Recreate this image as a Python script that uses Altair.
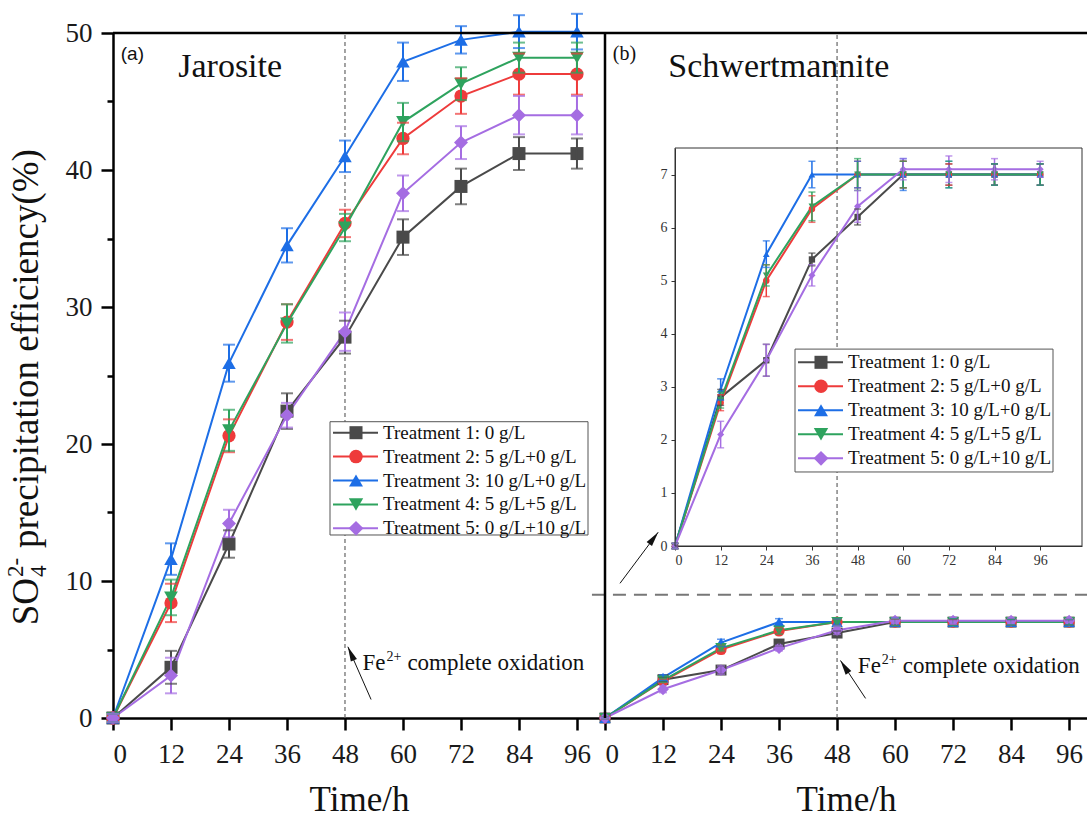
import altair as alt
import pandas as pd

# ---------------------------------------------------------------- data
times = [0, 12, 24, 36, 48, 60, 72, 84, 96]
treatments = [
    "Treatment 1: 0 g/L",
    "Treatment 2: 5 g/L+0 g/L",
    "Treatment 3: 10 g/L+0 g/L",
    "Treatment 4: 5 g/L+5 g/L",
    "Treatment 5: 0 g/L+10 g/L",
]
palette = ["#4a4a4a", "#ee3b3b", "#1d6ee6", "#2ea35e", "#a56de2"]
markers = ["square", "circle", "triangle-up", "triangle-down", "diamond"]

# (a) Jarosite: mean SO4 precipitation efficiency (%) and its error
jar_t1 = [0, 3.7, 12.7, 22.4, 27.8, 35.1, 38.8, 41.2, 41.2]
jar_t2 = [0, 8.4, 20.6, 28.9, 36.1, 42.3, 45.4, 47.0, 47.0]
jar_t3 = [0, 11.6, 25.9, 34.5, 41.0, 47.9, 49.5, 50.1, 50.1]
jar_t4 = [0, 8.8, 21.0, 28.8, 35.8, 43.5, 46.3, 48.2, 48.2]
jar_t5 = [0, 3.1, 14.2, 22.1, 28.2, 38.3, 42.0, 44.0, 44.0]
jar_e1 = [0.3, 1.2, 1.0, 1.3, 1.2, 1.3, 1.3, 1.2, 1.1]
jar_e2 = [0.3, 1.4, 1.2, 1.3, 1.0, 1.15, 1.3, 1.5, 1.5]
jar_e3 = [0.3, 1.15, 1.35, 1.25, 1.15, 1.4, 1.0, 1.2, 1.3]
jar_e4 = [0.3, 1.3, 1.5, 1.4, 1.0, 1.4, 1.2, 1.1, 1.1]
jar_e5 = [0.3, 1.3, 1.0, 0.9, 1.4, 1.3, 1.2, 1.4, 1.4]

# (b) Schwertmannite
sch_t1 = [0, 2.8, 3.5, 5.4, 6.2, 7.0, 7.0, 7.0, 7.0]
sch_t2 = [0, 2.7, 5.0, 6.35, 7.0, 7.0, 7.0, 7.0, 7.0]
sch_t3 = [0, 2.95, 5.5, 7.0, 7.0, 7.0, 7.0, 7.0, 7.0]
sch_t4 = [0, 2.75, 5.1, 6.4, 7.0, 7.0, 7.0, 7.0, 7.0]
sch_t5 = [0, 2.1, 3.5, 5.1, 6.4, 7.1, 7.1, 7.1, 7.1]
sch_e1 = [0.05, 0.15, 0.3, 0.12, 0.15, 0.25, 0.2, 0.2, 0.2]
sch_e2 = [0.05, 0.15, 0.3, 0.25, 0.25, 0.25, 0.2, 0.2, 0.2]
sch_e3 = [0.05, 0.2, 0.25, 0.25, 0.25, 0.3, 0.25, 0.2, 0.2]
sch_e4 = [0.05, 0.15, 0.2, 0.27, 0.3, 0.25, 0.25, 0.2, 0.2]
sch_e5 = [0.05, 0.25, 0.3, 0.2, 0.3, 0.2, 0.25, 0.2, 0.15]

y_ticks = [0, 10, 20, 30, 40, 50]
y_minor = [5, 15, 25, 35, 45]
inset_ticks = [0, 1, 2, 3, 4, 5, 6, 7]
oxidation_time = 48
inset_threshold = 9


def long_frame(means, errs):
    rows = []
    for name, m, e in zip(treatments, means, errs):
        for t, v, s in zip(times, m, e):
            rows.append({"series": name, "t": t, "v": v, "lo": v - s, "hi": v + s})
    return pd.DataFrame(rows)


jar = long_frame([jar_t1, jar_t2, jar_t3, jar_t4, jar_t5],
                 [jar_e1, jar_e2, jar_e3, jar_e4, jar_e5])
sch = long_frame([sch_t1, sch_t2, sch_t3, sch_t4, sch_t5],
                 [sch_e1, sch_e2, sch_e3, sch_e4, sch_e5])
legend_rows = pd.DataFrame({"series": treatments, "row": list(range(len(treatments)))})
ONE = pd.DataFrame({"k": [0]})

# ---------------------------------------------------------------- layout
SERIF = "Liberation Serif"
SANS = "Liberation Sans"
W, H = 974, 685

xa = alt.Scale(domain=[0, 101.8], range=[0, 492], nice=False)
xb = alt.Scale(domain=[0, 99.7], range=[492, W], nice=False)
xi = alt.Scale(domain=[0, 107], range=[562, 969], nice=False)
ym = alt.Scale(domain=[0, 50], range=[H, 0], nice=False)
yi = alt.Scale(domain=[0, 7.5], range=[513, 115], nice=False)

color = alt.Color("series:N", scale=alt.Scale(domain=treatments, range=palette), legend=None)
shape = alt.Shape("series:N", scale=alt.Scale(domain=treatments, range=markers), legend=None)
HEAD = "M0,0L-0.5,2.2L0.5,2.2Z"


def X(v, s, axis=None):
    return alt.XDatum(v, scale=s, axis=axis)


def Y(v, s, axis=None):
    return alt.YDatum(v, scale=s, axis=axis)


def series_layers(df, xs, ys, sizes, lw, ew, cap):
    base = alt.Chart(df)
    xn = alt.X("t:Q", scale=xs, axis=None)
    size = alt.Size("series:N", scale=alt.Scale(domain=treatments, range=sizes), legend=None)
    line = base.mark_line(strokeWidth=lw).encode(
        x=xn, y=alt.Y("v:Q", scale=ys, axis=None), color=color, detail="series:N")
    pts = base.mark_point(filled=True, opacity=1).encode(
        x=xn, y=alt.Y("v:Q", scale=ys, axis=None), color=color, shape=shape, size=size)
    bar = base.mark_rule(strokeWidth=ew).encode(
        x=xn, y=alt.Y("lo:Q", scale=ys, axis=None), y2="hi:Q", color=color)
    cap_lo = base.mark_tick(orient="horizontal", size=cap, thickness=ew).encode(
        x=xn, y=alt.Y("lo:Q", scale=ys, axis=None), color=color)
    cap_hi = base.mark_tick(orient="horizontal", size=cap, thickness=ew).encode(
        x=xn, y=alt.Y("hi:Q", scale=ys, axis=None), color=color)
    return [line, pts, bar, cap_lo, cap_hi]


def text_at(txt, x, y, xs, ys, **kw):
    kw.setdefault("font", SERIF)
    kw.setdefault("color", "#111")
    return alt.Chart(ONE).mark_text(text=txt, **kw).encode(x=X(x, xs), y=Y(y, ys))


def arrow(x0, y0, x1, y1, angle, xs, ys):
    shaft = alt.Chart(ONE).mark_rule(color="#111", strokeWidth=1).encode(
        x=X(x0, xs), y=Y(y0, ys), x2=alt.X2Datum(x1), y2=alt.Y2Datum(y1))
    head = alt.Chart(ONE).mark_point(shape=HEAD, filled=True, color="#111", opacity=1,
                                     size=180, angle=angle).encode(x=X(x1, xs), y=Y(y1, ys))
    return [shaft, head]


def oxidation_label(x, y, xs, ys):
    return [
        text_at("Fe", x, y, xs, ys, fontSize=23, align="left", baseline="alphabetic"),
        text_at("2+", x, y, xs, ys, fontSize=14, align="left", baseline="alphabetic", dx=24, dy=-9),
        text_at("complete oxidation", x, y, xs, ys, fontSize=23, align="left",
                baseline="alphabetic", dx=45),
    ]


def legend_layers(left, row_top, row_bottom, box_top, box_bottom):
    lx = alt.Scale(domain=[0, 258], range=[left, left + 258], nice=False)
    ly = alt.Scale(domain=[0, 4], range=[row_top, row_bottom], nice=False, zero=False)
    box = alt.Chart(ONE).mark_rect(fill="white", stroke="#555", strokeWidth=1).encode(
        x=X(0, lx), x2=alt.X2Datum(258), y=Y(box_top, ly), y2=alt.Y2Datum(box_bottom))
    base = alt.Chart(legend_rows)
    yrow = alt.Y("row:Q", scale=ly, axis=None)
    seg = base.mark_rule(strokeWidth=2).encode(x=X(3, lx), x2=alt.X2Datum(48), y=yrow, color=color)
    sym = base.mark_point(filled=True, opacity=1).encode(
        x=X(26, lx), y=yrow, color=color, shape=shape,
        size=alt.Size("series:N", scale=alt.Scale(domain=treatments,
                                                  range=[170, 220, 300, 300, 320]), legend=None))
    lab = base.mark_text(font=SERIF, fontSize=19, align="left", baseline="middle",
                         color="#111").encode(x=X(53, lx), y=yrow, text="series:N")
    return alt.layer(box, seg, sym, lab)


# ---------------------------------------------------------------- axes
big_axis = dict(domainWidth=2.5, tickWidth=2.5, domainColor="#000", tickColor="#000",
                labelFont=SERIF, labelFontSize=27, labelColor="#1a1a1a", grid=False)
time_title = dict(title="Time/h", titleFont=SERIF, titleFontSize=35, titleFontWeight="normal",
                  titleColor="#111", titleY=92, titleBaseline="alphabetic")
x_axis_a = alt.Axis(values=times, orient="bottom", tickSize=12, labelPadding=11,
                    **time_title, **big_axis)
x_axis_b = alt.Axis(values=times, orient="bottom", tickSize=12, labelPadding=11,
                    **time_title, **big_axis)
y_axis_a = alt.Axis(values=y_ticks, orient="left", tickSize=12, labelPadding=9, title=None,
                    **big_axis)
y_axis_minor = alt.Axis(values=y_minor, orient="left", tickSize=6, labels=False, domain=False,
                        title=None, tickWidth=2.5, tickColor="#000", grid=False)
small_axis = dict(domainWidth=1, tickWidth=1, domainColor="#333", tickColor="#333", tickSize=4,
                  labelFont=SERIF, labelFontSize=14, labelColor="#333", title=None, grid=False)
x_axis_i = alt.Axis(values=times, orient="bottom", offset=-(H - 513), labelPadding=3, **small_axis)
y_axis_i = alt.Axis(values=inset_ticks, orient="left", offset=-562, labelPadding=4, **small_axis)

# ---------------------------------------------------------------- panel (a)
dash_a = alt.Chart(ONE).mark_rule(color="#666", strokeWidth=1.2, strokeDash=[4, 3]).encode(
    x=X(oxidation_time, xa), y=Y(0, ym), y2=alt.Y2Datum(50))


def y_title_part(txt, size, align, dx=0, dy=0):
    return alt.Chart(ONE).mark_text(text=txt, font=SERIF, fontSize=size, angle=270, align=align,
                                    baseline="alphabetic", color="#111", dx=dx, dy=dy).encode(
        x=alt.value(-75), y=alt.value(545))


y_title = [
    y_title_part("SO", 37, "right"),
    y_title_part("4", 23, "left", dx=1, dy=8),
    y_title_part("2-", 23, "left", dx=1, dy=-15),
    y_title_part("precipitation efficiency(%)", 37, "left", dx=30),
]
panel_a = alt.layer(
    dash_a,
    *series_layers(jar, xa, ym, [169, 196, 324, 324, 324], 2, 2, 12),
    *arrow(53.4, 1.35, 48.6, 5.2, 336, xa, ym),
    *oxidation_label(51.6, 3.5, xa, ym),
    text_at("Jarosite", 13.5, 46.8, xa, ym, fontSize=34, align="left", baseline="alphabetic"),
    text_at("(a)", 1.6, 48.0, xa, ym, font=SANS, fontSize=19, align="left", baseline="alphabetic"),
    *y_title,
)
# frame of panel (a): axes with major ticks, top spine with minor y ticks
axes_a = alt.Chart(ONE).mark_point(opacity=0).encode(
    x=X(0, xa, x_axis_a), y=Y(0, ym, y_axis_a))
frame_a = alt.Chart(ONE).mark_rule(color="#000", strokeWidth=2.5).encode(
    x=X(0, xa), x2=alt.X2Datum(101.8), y=Y(50, ym, y_axis_minor))
legend_a = legend_layers(217, 399.7, 495.3, -0.46, 4.28)

# ---------------------------------------------------------------- panel (b)
dash_b = alt.Chart(ONE).mark_rule(color="#666", strokeWidth=1.2, strokeDash=[4, 3]).encode(
    x=X(oxidation_time, xb), y=Y(0, ym), y2=alt.Y2Datum(50))
cut_b = alt.Chart(ONE).mark_rule(color="#777", strokeWidth=2, strokeDash=[13, 8]).encode(
    x=X(-2.7, xb), x2=alt.X2Datum(99.7), y=Y(inset_threshold, ym))
spine_b = alt.Chart(ONE).mark_rule(color="#000", strokeWidth=2.5).encode(
    x=X(0, xb), y=Y(0, ym), y2=alt.Y2Datum(50))
top_b = alt.Chart(ONE).mark_rule(color="#000", strokeWidth=2.5).encode(
    x=X(0, xb), x2=alt.X2Datum(99.7), y=Y(50, ym))
panel_b = alt.layer(
    dash_b, cut_b,
    *series_layers(sch, xb, ym, [120, 140, 210, 210, 230], 2, 1.5, 8),
    spine_b, top_b,
    *arrow(53.9, 1.43, 48.7, 4.2, 327, xb, ym),
    *arrow(3.1, 9.83, 11.0, 13.56, 37, xb, ym),
    *oxidation_label(52.3, 3.3, xb, ym),
    text_at("Schwertmannite", 13.1, 46.8, xb, ym, fontSize=34, align="left",
            baseline="alphabetic"),
    text_at("(b)", 1.6, 48.0, xb, ym, fontSize=20, align="left", baseline="alphabetic"),
)
axes_b = alt.Chart(ONE).mark_point(opacity=0).encode(x=X(0, xb, x_axis_b), y=Y(0, ym))

inset = alt.layer(*series_layers(sch, xi, yi, [40, 50, 70, 70, 75], 2, 1.5, 7))
inset_box = alt.Chart(ONE).mark_rect(fillOpacity=0, stroke="#333", strokeWidth=1).encode(
    x=X(0, xi, x_axis_i), x2=alt.X2Datum(107), y=Y(0, yi, y_axis_i), y2=alt.Y2Datum(7.5))
legend_b = legend_layers(682, 329.3, 425.3, -0.55, 4.57)

chart = alt.layer(
    panel_a, axes_a, frame_a, legend_a, panel_b, axes_b, inset, inset_box, legend_b
).resolve_scale(
    x="independent", y="independent", size="independent"
).properties(
    width=W, height=H,
    autosize=alt.AutoSizeParams(type="none"),
    padding={"left": 113, "top": 33, "right": 0, "bottom": 99},
    background="white",
).configure_view(
    strokeOpacity=0
).configure_axis(
    labelFont=SERIF, titleFont=SERIF
)

chart.save("out.html", embed_options={"renderer": "svg", "actions": False})
